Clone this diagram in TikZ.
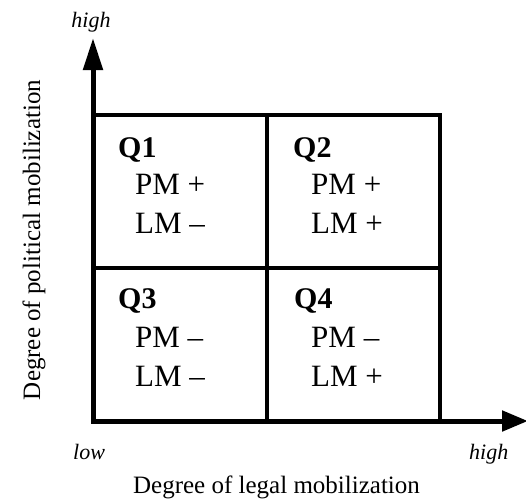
\documentclass[tikz,border=0pt]{standalone}
\usepackage{fontspec}
\setmainfont{Liberation Serif}
\usetikzlibrary{arrows.meta}
\begin{document}
\begin{tikzpicture}[x=1pt,y=-1pt,
  axisline/.style={line width=5pt,line join=miter},
  gridline/.style={line width=4.6pt,line cap=rect},
  qlabel/.style={anchor=base west,inner sep=0pt,font=\fontsize{30}{30}\selectfont\bfseries},
  celltext/.style={anchor=base west,inner sep=0pt,font=\fontsize{31}{31}\selectfont},
  endlabel/.style={inner sep=0pt,font=\fontsize{22}{22}\selectfont\itshape},
  axislabel/.style={inner sep=0pt,font=\fontsize{25}{25}\selectfont}]
\useasboundingbox (0,0) rectangle (526,499);
% key coordinates
\coordinate (O) at (93,421);
\coordinate (ytip) at (93,38);
\coordinate (xtip) at (528,421);
\coordinate (tl) at (93,115);
\coordinate (tm) at (267,115);
\coordinate (tr) at (440,115);
\coordinate (ml) at (93,268);
\coordinate (mr) at (440,268);
\coordinate (bm) at (267,421);
\coordinate (br) at (440,421);
% grid
\draw[gridline] (tl) -- (tr) -- (br);
\draw[gridline] (tm) -- (bm);
\draw[gridline] (ml) -- (mr);
% axes
\draw[axisline,{Triangle[length=32pt,width=19pt]}-{Triangle[length=26pt,width=20pt]}] (ytip) |- (xtip);
% quadrant texts
\node[qlabel] (q1) at (118,157) {Q1};
\node[celltext] (q1a) at (135,194) {PM +};
\node[celltext] (q1b) at (135,233) {LM –};
\node[qlabel] (q2) at (293,157) {Q2};
\node[celltext] (q2a) at (311,194) {PM +};
\node[celltext] (q2b) at (311,233) {LM +};
\node[qlabel] (q3) at (118,308) {Q3};
\node[celltext] (q3a) at (135,347) {PM –};
\node[celltext] (q3b) at (135,386) {LM –};
\node[qlabel] (q4) at (294,308) {Q4};
\node[celltext] (q4a) at (311,347) {PM –};
\node[celltext] (q4b) at (311,386) {LM +};
% axis end labels
\node[endlabel,anchor=base] (yhigh) at (91,27) {high};
\node[endlabel,anchor=base west] (xlow) at (73,459) {low};
\node[endlabel,anchor=base west] (xhigh) at (469,459) {high};
% axis titles
\node[axislabel,anchor=base] (xtitle) at (276.5,493) {Degree of legal mobilization};
\node[axislabel,anchor=base,rotate=90] (ytitle) at (40,240) {Degree of political mobilization};
\end{tikzpicture}
\end{document}
